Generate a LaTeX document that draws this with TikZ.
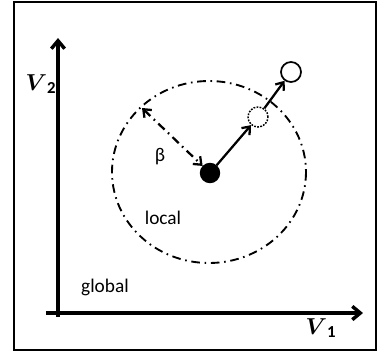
\documentclass[tikz,border=0pt]{standalone}
\usepackage{amsmath}
\usepackage{fontspec}
\setmainfont{Carlito}
\usetikzlibrary{arrows.meta,calc}

\begin{document}
\begin{tikzpicture}[
  x=0.75pt,y=-0.75pt,
  font=\fontsize{14.5}{17}\selectfont,
  >={Straight Barb[length=5pt,width=8pt]},
  frame/.style  ={line width=1.5pt},
  axis/.style   ={-{Straight Barb[length=6pt,width=10pt]},line width=2.6pt},
  move/.style   ={->,line width=1.7pt},
  dashdot/.style={line width=1.4pt,dash pattern=on 6.5pt off 3.5pt on 1.2pt off 3.5pt},
  radius/.style ={dashdot,<->,line width=1.7pt},
  pt/.style     ={circle,draw,line width=1.3pt,inner sep=0pt,minimum size=15pt},
  axlab/.style  ={font=\fontsize{18}{20}\selectfont},
]
\useasboundingbox (0,0) rectangle (380,354);
\draw[frame] (14,1.5) rectangle (376,350);

% =====================================================================
% AXES
% =====================================================================
\coordinate (orig)  at (58,313);
\coordinate (v1end) at (363,313);
\coordinate (v2end) at (58,38);
\draw[axis] ($(orig)+(-12,0)$) -- (v1end);
\draw[axis] ($(orig)+(0,4)$) -- (v2end);
\node[axlab] (v1lab) at (321,328) {$\boldsymbol{V}_{\mathbf{1}}$};
\node[axlab] (v2lab) at (41,84)   {$\boldsymbol{V}_{\mathbf{2}}$};

% =====================================================================
% LOCAL REGION AND MOVES
% =====================================================================
\coordinate (cen) at (209,172);
\draw[dashdot] (cen) ellipse (97 and 91);

\node[pt,fill=black,minimum size=14pt] (cur)   at (210,173) {};
\node[pt,densely dotted,line width=1.1pt] (trial) at (258,117) {};
\node[pt] (new) at (291,72) {};

\draw[move] (cur) -- (trial);
\draw[move] (trial) -- (new);

\coordinate (rim) at (142,108);
\draw[radius] (rim) -- (cur);

\node (beta)   at (160,157) {β};
\node (local)  at (163,218) {local};
\node (global) at (105,287) {global};

\end{tikzpicture}
\end{document}
